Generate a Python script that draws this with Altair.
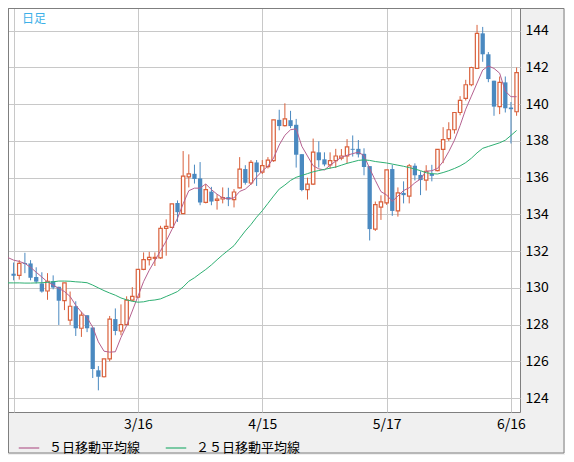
import altair as alt
import pandas as pd

# ---- daily candles, first bar = 2/14, last bar = 6/17
opens = [130.77,130.68,131.35,131.33,130.59,130.24,129.83,130.36,130.06,129.30,
         128.24,129.00,127.80,128.51,127.84,125.51,125.16,126.13,128.30,127.65,
         128.00,129.33,129.50,131.01,131.54,131.61,131.63,133.24,133.29,134.62,
         134.04,136.04,136.21,135.96,134.65,135.24,134.76,134.84,134.94,134.81,
         135.45,136.47,135.71,136.83,136.30,136.60,136.93,139.15,138.83,139.13,
         138.88,137.28,135.35,135.65,137.38,137.00,136.70,136.93,137.06,137.18,
         137.57,137.57,137.30,136.63,133.20,134.40,134.63,136.47,134.19,135.17,
         135.00,136.65,136.15,135.87,136.20,136.38,137.54,138.13,138.61,139.55,
         140.32,141.06,141.95,143.86,142.72,141.28,139.87,141.19,139.82,139.59]
highs = [131.38,131.51,131.91,131.51,131.12,130.85,130.80,130.68,130.06,130.27,
         129.80,129.27,128.69,128.51,127.84,125.74,126.13,128.47,128.88,129.10,
         129.54,130.04,131.01,131.93,131.96,131.93,133.38,133.73,134.57,134.76,
         137.45,137.27,136.71,136.85,135.65,135.50,135.10,135.47,135.45,135.38,
         137.12,136.68,136.96,136.96,136.96,137.12,139.15,139.70,140.05,139.64,
         139.20,137.28,136.00,138.13,137.98,137.38,137.38,137.57,137.56,138.10,
         138.30,138.05,137.60,136.63,134.70,135.04,136.42,136.70,135.47,135.80,
         136.75,136.78,136.35,136.68,136.70,137.54,138.75,139.02,139.55,140.44,
         141.33,142.04,144.32,144.21,142.84,141.28,141.51,141.51,140.12,142.00]
lows = [130.41,130.45,130.80,130.41,130.24,129.74,129.35,129.92,127.98,128.79,
        127.98,127.38,127.33,127.59,125.09,124.42,125.12,126.00,127.42,127.42,
        128.00,129.27,129.45,130.96,131.22,131.19,131.58,131.75,133.26,133.59,
        134.04,135.47,135.68,134.50,134.60,134.50,134.26,134.60,134.45,134.38,
        135.42,135.62,135.60,135.55,136.20,136.50,136.86,138.58,138.79,138.70,
        136.55,135.26,134.81,135.60,136.55,136.62,136.49,136.53,136.95,136.78,
        137.15,137.10,136.13,132.58,133.10,133.70,134.52,133.92,133.88,134.60,
        134.60,135.85,135.05,135.30,135.80,136.35,136.79,138.00,138.40,139.40,
        140.20,140.98,141.92,142.31,141.20,139.37,139.46,139.55,137.86,139.37]
closes = [130.66,131.33,131.30,130.55,130.34,129.80,130.36,130.02,129.30,130.27,
          129.00,127.80,128.51,127.80,125.58,125.16,126.13,128.30,127.65,128.00,
          129.33,129.54,131.01,131.54,131.66,131.66,133.24,133.35,134.57,134.12,
          136.09,136.21,135.93,134.65,135.35,134.70,134.84,134.92,134.81,135.22,
          136.47,135.72,136.83,136.30,136.66,136.96,139.15,138.81,139.20,138.81,
          137.25,135.33,135.65,137.39,136.95,136.72,136.93,137.18,137.18,137.68,
          137.52,137.27,136.58,133.20,134.53,134.68,136.42,134.19,135.17,135.05,
          136.65,136.13,135.87,136.35,136.10,137.54,138.07,138.61,139.55,140.21,
          141.06,142.00,143.86,142.72,141.37,139.87,141.19,139.78,139.73,141.72]

# ---- moving averages, bar index -1 .. 89
ma5 = [131.65,131.51,131.44,131.33,131.12,130.85,130.59,130.32,130.15,129.97,129.80,
       129.53,129.05,128.68,128.38,127.86,127.06,126.55,126.50,126.52,127.30,
       127.95,128.74,129.54,130.34,130.96,131.49,132.02,132.55,133.17,133.79,
       134.58,135.29,135.43,135.43,135.66,135.35,135.10,134.90,134.85,134.90,
       135.25,135.38,135.65,136.04,136.36,136.63,137.07,137.78,138.31,138.61,
       138.66,137.71,137.18,136.65,136.48,136.42,136.68,136.90,137.11,137.22,
       137.31,137.39,137.20,136.50,135.85,135.24,135.06,134.71,135.00,135.30,
       135.45,135.72,135.93,136.35,136.38,136.50,136.88,137.42,138.04,138.84,
       139.73,140.44,141.15,141.86,142.08,141.95,141.69,140.71,140.41,140.41]
ma25 = [130.27,130.27,130.27,130.26,130.26,130.27,130.28,130.30,130.33,130.37,130.37,
        130.36,130.33,130.31,130.28,130.15,130.00,129.85,129.72,129.60,129.45,
        129.35,129.27,129.22,129.24,129.31,129.34,129.40,129.53,129.66,129.80,
        130.05,130.36,130.55,130.78,131.00,131.25,131.53,131.80,132.05,132.30,
        132.70,133.10,133.45,133.85,134.20,134.60,135.00,135.38,135.60,135.85,
        136.02,136.12,136.22,136.32,136.39,136.45,136.52,136.58,136.68,136.78,
        136.86,136.94,136.97,136.94,136.88,136.84,136.80,136.74,136.68,136.62,
        136.55,136.47,136.38,136.27,136.22,136.20,136.28,136.38,136.50,136.64,
        136.82,137.06,137.35,137.60,137.70,137.80,137.90,138.04,138.30,138.57]

series_names = ["５日移動平均線", "２５日移動平均線"]
series_colors = ["#b5608f", "#2eaf72"]

x_tick_idx = [0, 22, 44, 66, 88]
x_tick_labels = ["", "3/16", "4/15", "5/17", "6/16"]
y_ticks = list(range(124, 145, 2))

UP = "#d9603b"
DOWN = "#4a89c0"
FONT = "Noto Sans CJK JP"
W, H = 512, 404

candles = pd.DataFrame({"i": list(range(len(opens))), "open": opens, "high": highs,
                        "low": lows, "close": closes})
ma_idx = list(range(-1, len(ma5) - 1))
ma_df = pd.concat([
    pd.DataFrame({"i": ma_idx, "v": ma5, "s": series_names[0]}),
    pd.DataFrame({"i": ma_idx, "v": ma25, "s": series_names[1]}),
])

label_expr = " : ".join(f"datum.value == {v} ? '{t}'" for v, t in zip(x_tick_idx, x_tick_labels)) + " : ''"

xs = alt.Scale(domain=[-0.99, 89.6], nice=False, zero=False)
ys = alt.Scale(domain=[123.24, 145.24], nice=False, zero=False)
x_axis = alt.Axis(values=x_tick_idx, labelExpr=label_expr, grid=True, gridColor="#c8c8c8",
                  ticks=False, domain=False, labelPadding=5, labelFontSize=14, labelFont=FONT,
                  labelColor="#000000", labelFlush=False, labelOverlap=False, title=None)
y_axis = alt.Axis(values=y_ticks, orient="right", grid=True, gridColor="#c8c8c8",
                  ticks=False, domain=False, labelPadding=5, labelFontSize=14, labelFont=FONT,
                  labelColor="#000000", title=None)

base = alt.Chart(candles)
up_f = "datum.close >= datum.open"
down_f = "datum.close < datum.open"

wick_up = base.transform_filter(up_f).mark_rule(color=UP, strokeWidth=1, clip=True).encode(
    x=alt.X("i:Q", scale=xs, axis=x_axis),
    y=alt.Y("low:Q", scale=ys, axis=y_axis),
    y2="high:Q")
wick_down = base.transform_filter(down_f).mark_rule(color=DOWN, strokeWidth=1, clip=True).encode(
    x=alt.X("i:Q", scale=xs, axis=x_axis),
    y=alt.Y("low:Q", scale=ys, axis=y_axis),
    y2="high:Q")
body_up = base.transform_filter(up_f).transform_calculate(
    lo="datum.i - 0.3", hi="datum.i + 0.3").mark_rect(
    fill="white", stroke=UP, strokeWidth=1.2, clip=True).encode(
    x=alt.X("lo:Q", scale=xs, axis=x_axis), x2="hi:Q",
    y=alt.Y("open:Q", scale=ys, axis=y_axis), y2="close:Q")
body_down = base.transform_filter(down_f).transform_calculate(
    lo="datum.i - 0.38", hi="datum.i + 0.38").mark_rect(
    fill=DOWN, clip=True).encode(
    x=alt.X("lo:Q", scale=xs, axis=x_axis), x2="hi:Q",
    y=alt.Y("open:Q", scale=ys, axis=y_axis), y2="close:Q")

lines = alt.Chart(ma_df).mark_line(strokeWidth=1, clip=True).encode(
    x=alt.X("i:Q", scale=xs, axis=x_axis),
    y=alt.Y("v:Q", scale=ys, axis=y_axis),
    color=alt.Color("s:N", scale=alt.Scale(domain=series_names, range=series_colors),
                    legend=alt.Legend(orient="none", legendX=10, legendY=H + 25,
                                      direction="horizontal", columns=2, title=None,
                                      symbolType="stroke", symbolSize=420,
                                      symbolStrokeWidth=1.2, labelFontSize=13,
                                      labelFont=FONT, labelColor="#000000",
                                      labelOffset=9, columnPadding=22)),
    order="i:Q")

tag = alt.Chart(pd.DataFrame({"t": ["日足"]})).mark_text(
    align="left", baseline="middle", fontSize=12, font=FONT, color="#3cb0e8").encode(
    text="t:N", x=alt.value(14), y=alt.value(11))

frame = alt.Chart(pd.DataFrame({"k": [0]})).mark_rect(
    fillOpacity=0, stroke="#7f7f7f", strokeWidth=1).encode(
    x=alt.value(0.5), x2=alt.value(W + 44), y=alt.value(0.5), y2=alt.value(H + 41))

chart = alt.layer(frame, wick_up, wick_down, body_up, body_down, lines, tag).properties(
    width=W, height=H, padding=0, background="#f0f0f0"
).configure_view(fill="white", stroke="#7f7f7f", strokeWidth=1)

chart.save("out.html", embed_options={"renderer": "svg", "actions": False})
